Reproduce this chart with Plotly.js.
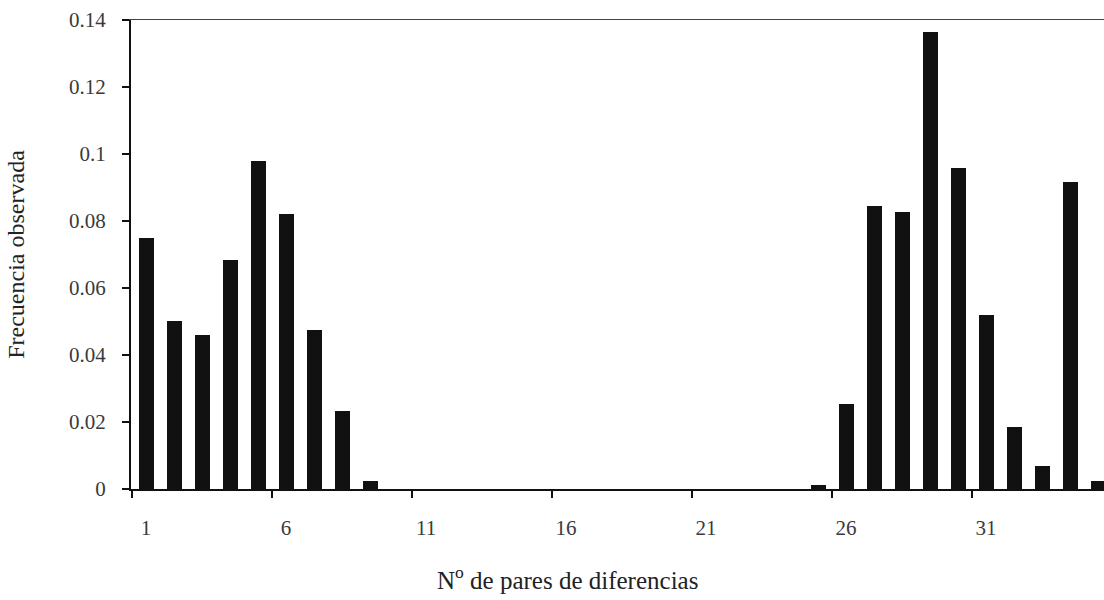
<!DOCTYPE html>
<html>
<head>
<meta charset="utf-8">
<script src="https://cdn.plot.ly/plotly-3.0.1.min.js"></script>
<style>html,body{margin:0;padding:0;background:#fff;}</style>
</head>
<body>
<div id="chart" style="width:1104px;height:600px;"></div>
<script>
const categories = [1,2,3,4,5,6,7,8,9,10,11,12,13,14,15,16,17,18,19,20,21,22,23,24,25,26,27,28,29,30,31,32,33,34,35];
const frequencies = [0.0749,0.0502,0.0460,0.0684,0.0979,0.0821,0.0475,0.0233,0.0025,
  0,0,0,0,0,0,0,0,0,0,0,0,0,0,0,
  0.0013,0.0253,0.0845,0.0827,0.1364,0.0958,0.0520,0.0185,0.0069,0.0916,0.0024];
const xTickLabels = [1,6,11,16,21,26,31];
const xTickMarks = [0.5,5.5,10.5,15.5,20.5,25.5,30.5];
const xTitle = 'N<sup>o</sup> de pares de diferencias';
const yTitle = 'Frecuencia observada';

const serif = 'Liberation Serif, Times New Roman, serif';
const xRange = [0.46, 35.21];

const data = [{
  type: 'bar',
  x: categories,
  y: frequencies,
  width: 0.53,
  marker: {color: '#111111', line: {width: 0}},
  hoverinfo: 'x+y'
}];

const layout = {
  width: 1104, height: 600,
  margin: {l: 131, r: 0, t: 20, b: 111},
  paper_bgcolor: '#ffffff', plot_bgcolor: '#ffffff',
  showlegend: false,
  bargap: 0,
  xaxis: {
    range: xRange, tickmode: 'array', tickvals: xTickLabels, ticktext: xTickLabels.map(String),
    ticks: '', showgrid: false, zeroline: false,
    showline: true, linecolor: '#111', linewidth: 2,
    ticklabelstandoff: 19,
    tickfont: {family: serif, size: 21, color: '#3a3a3a'},
    fixedrange: true
  },
  xaxis2: {
    overlaying: 'x', anchor: 'y', side: 'bottom', range: xRange,
    tickmode: 'array', tickvals: xTickMarks, showticklabels: false,
    ticks: 'outside', ticklen: 8, tickwidth: 2, tickcolor: '#111',
    showgrid: false, zeroline: false, showline: false
  },
  xaxis3: {
    overlaying: 'x', anchor: 'y', side: 'top', range: xRange,
    showticklabels: false, ticks: '', showgrid: false, zeroline: false,
    showline: true, linecolor: '#444', linewidth: 1
  },
  yaxis: {
    range: [0, 0.14], dtick: 0.02, tick0: 0,
    ticks: 'outside', ticklen: 7, tickwidth: 2, tickcolor: '#111',
    showgrid: false, zeroline: false,
    showline: true, linecolor: '#111', linewidth: 2,
    ticklabelstandoff: 12,
    tickfont: {family: serif, size: 21, color: '#3a3a3a'},
    title: {text: yTitle, font: {family: serif, size: 24, color: '#222'}, standoff: 38},
    fixedrange: true
  },
  annotations: [{
    text: xTitle, xref: 'paper', yref: 'paper', x: 0.449, y: -0.19,
    xanchor: 'center', yanchor: 'middle', showarrow: false,
    font: {family: serif, size: 25, color: '#222'}
  }]
};

const traces = data.concat([
  {type: 'scatter', x: [], y: [], xaxis: 'x2', yaxis: 'y', hoverinfo: 'skip', showlegend: false},
  {type: 'scatter', x: [], y: [], xaxis: 'x3', yaxis: 'y', hoverinfo: 'skip', showlegend: false}
]);

Plotly.newPlot('chart', traces, layout, {displayModeBar: false, staticPlot: true});
</script>
</body>
</html>
